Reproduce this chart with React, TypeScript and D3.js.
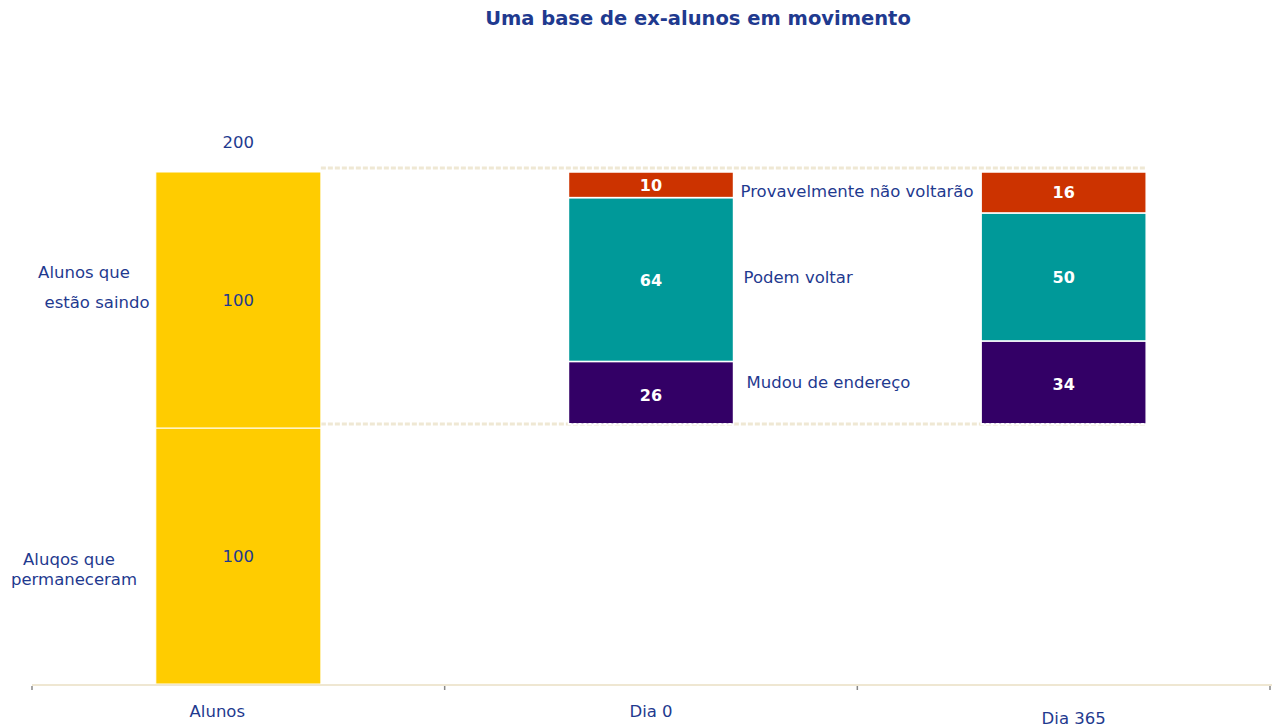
import React from "react";
import * as d3 from "d3";

const categories = ["Alunos", "Dia 0", "Dia 365"];
const title = "Uma base de ex-alunos em movimento";
const alunosSegments = [100, 100];
const segmentNames = ["Mudou de endereço", "Podem voltar", "Provavelmente não voltarão"];
const dia0Values = [26, 64, 10];
const dia365Values = [34, 50, 16];
const stackBase = 100;
const totalLabel = "200";
const segmentColors = ["#330066", "#009999", "#CC3300"];
const sideLabelValues = [118, 159, 192.5];
const leftLabelsTop = ["Alunos que", "estão saindo"];
const leftLabelsBottom = ["Aluqos que", "permaneceram"];

const W = 1278;
const H = 727;
const FONT = "'DejaVu Sans', Verdana, sans-serif";
const TEXT = "#1f3a8f";
const FS = 16.5;

export default function App() {
  const x = d3.scaleBand().domain(categories).range([32, 1270]).paddingInner(0.6).paddingOuter(0.3);
  const xTicks = d3.scaleBand().domain(categories).range([32, 1270]);
  const y = d3.scaleLinear().domain([0, 200]).range([684, 172]);
  const bw = x.bandwidth();

  const stacks = [dia0Values, dia365Values].map((vals, i) => {
    let acc = stackBase;
    return vals.map((v, j) => {
      const s = { cat: categories[i + 1], y0: acc, y1: acc + v, v, color: segmentColors[j] };
      acc += v;
      return s;
    });
  });

  let accA = 0;
  const alunos = alunosSegments.map((v) => {
    const s = { y0: accA, y1: accA + v, v };
    accA += v;
    return s;
  });

  const xA = x("Alunos")!;
  const x0 = x("Dia 0")!;
  const x365 = x("Dia 365")!;
  const refLeft = xA + bw;
  const refRight = x365 + bw;
  const catOffsets = [-21, 0, 10];

  return (
    <svg width={W} height={H} style={{ position: "absolute", left: 0, top: 0, background: "#fff" }}>
      <text x={698} y={25} textAnchor="middle" fontFamily={FONT} fontWeight="bold" fontSize={19.5} fill={TEXT}>
        {title}
      </text>

      {/* reference dotted lines */}
      <line x1={refLeft} x2={refRight} y1={y(200) - 4} y2={y(200) - 4} stroke="#efe8d4" strokeWidth={3} strokeDasharray="5,2" />
      <line x1={refLeft} x2={refRight} y1={y(100) - 4} y2={y(100) - 4} stroke="#efe8d4" strokeWidth={3} strokeDasharray="5,2" />

      {/* Alunos bar */}
      {alunos.map((s, i) => (
        <g key={i}>
          <rect x={xA} y={y(s.y1)} width={bw} height={y(s.y0) - y(s.y1)} fill="#FFCC00" stroke="#fff" strokeWidth={1} />
          <text x={xA + bw / 2} y={(y(s.y0) + y(s.y1)) / 2 + 6} textAnchor="middle" fontFamily={FONT} fontSize={FS} fill={TEXT}>
            {s.v}
          </text>
        </g>
      ))}
      <text x={xA + bw / 2} y={y(200) - 24} textAnchor="middle" fontFamily={FONT} fontSize={FS} fill={TEXT}>
        {totalLabel}
      </text>

      {/* stacks */}
      {stacks.map((segs, i) => (
        <g key={i}>
          {segs.map((s, j) => {
            const xx = x(s.cat)!;
            const top = y(s.y1);
            const bot = j === 0 ? y(s.y0) - 4 : y(s.y0);
            return (
              <g key={j}>
                <rect x={xx} y={top} width={bw} height={bot - top} fill={s.color} stroke="#fff" strokeWidth={1.5} />
                <text x={xx + bw / 2} y={(y(s.y0) + y(s.y1)) / 2 + 6} textAnchor="middle" fontFamily={FONT} fontWeight="bold" fontSize={16} fill="#fff">
                  {s.v}
                </text>
              </g>
            );
          })}
          <line x1={x(segs[0].cat)!} x2={x(segs[0].cat)! + bw} y1={y(stackBase) - 4} y2={y(stackBase) - 4} stroke="#fff" strokeWidth={2} strokeDasharray="3,2" />
        </g>
      ))}

      {/* side labels */}
      {segmentNames.map((n, i) => (
        <text key={n} x={x0 + bw + 7 + (2 - i) * 3} y={y(sideLabelValues[i]) + 6} fontFamily={FONT} fontSize={FS} fill={TEXT}>
          {n}
        </text>
      ))}

      {/* left labels */}
      <text x={84} y={278} textAnchor="middle" fontFamily={FONT} fontSize={FS} fill={TEXT}>{leftLabelsTop[0]}</text>
      <text x={97} y={308} textAnchor="middle" fontFamily={FONT} fontSize={FS} fill={TEXT}>{leftLabelsTop[1]}</text>
      <text x={69} y={565} textAnchor="middle" fontFamily={FONT} fontSize={FS} fill={TEXT}>{leftLabelsBottom[0]}</text>
      <text x={74} y={585} textAnchor="middle" fontFamily={FONT} fontSize={FS} fill={TEXT}>{leftLabelsBottom[1]}</text>

      {/* axis */}
      <line x1={32} x2={1272} y1={685} y2={685} stroke="#efe7d2" strokeWidth={2} />
      {[...categories.map((c) => xTicks(c)!), 1270].map((t, i) => (
        <line key={i} x1={t} x2={t} y1={686} y2={690} stroke="#888" strokeWidth={1.5} />
      ))}
      {categories.map((c, i) => (
        <text key={c} x={x(c)! + bw / 2 + catOffsets[i]} y={717 + (i === 2 ? 7 : 0)} textAnchor="middle" fontFamily={FONT} fontSize={FS} fill={TEXT}>
          {c}
        </text>
      ))}
    </svg>
  );
}
